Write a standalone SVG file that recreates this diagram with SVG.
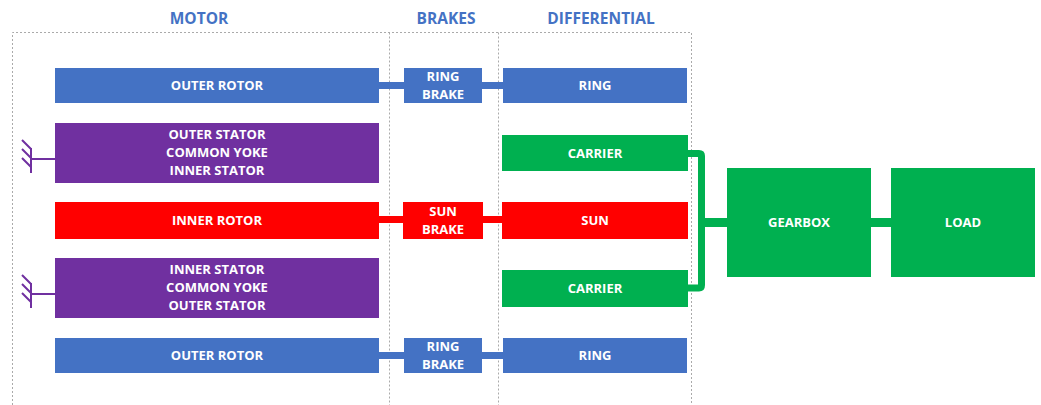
<svg xmlns="http://www.w3.org/2000/svg" width="1041" height="405" viewBox="0 0 1041 405">
<style>
.hdr{font-family:"Open Sans","Liberation Sans",sans-serif;font-weight:700;font-size:15.5px;fill:#4472C4;text-anchor:middle}
.lbl{font-family:"Open Sans","Liberation Sans",sans-serif;font-weight:700;font-size:13px;fill:#fff;text-anchor:middle}
.frame{fill:none;stroke:#aaaaaa;stroke-width:1;stroke-dasharray:2,2}
.blue{fill:#4472C4}
.purple{fill:#7030A0}
.red{fill:#FF0000}
.green{fill:#00B050}
.gnd{fill:none;stroke:#7030A0;stroke-width:2}
</style>
<rect width="1041" height="405" fill="#fff"/>
<g id="frames">
<path class="frame" d="M12.5,405 V32.5 H691.5 V405 M389.5,32.5 V405 M498.5,32.5 V405"/>
<text class="hdr" x="199" y="24">MOTOR</text>
<text class="hdr" x="446" y="24">BRAKES</text>
<text class="hdr" x="601" y="24">DIFFERENTIAL</text>
</g>
<g id="connectors">
<rect class="blue" x="378" y="82" width="28" height="7"/>
<rect class="blue" x="481" y="82" width="23" height="7"/>
<rect class="red" x="378" y="216" width="28" height="7"/>
<rect class="red" x="481" y="216" width="23" height="7"/>
<rect class="blue" x="378" y="352" width="28" height="7"/>
<rect class="blue" x="481" y="352" width="23" height="7"/>
<path d="M687,153.5 H699 Q701.5,153.5 701.5,156 V285 Q701.5,288 699,288 H687" fill="none" stroke="#00B050" stroke-width="7"/>
<rect class="green" x="701" y="218" width="28" height="9"/>
<rect class="green" x="869" y="218" width="24" height="9"/>
<path class="gnd" d="M31,159 H55 M31,148 V173 M22,140 L31,149 M22,149 L31,158 M22,158 L31,167"/>
<path class="gnd" d="M31,294 H55 M31,283 V308 M22,275 L31,284 M22,284 L31,293 M22,293 L31,302"/>
</g>
<g id="outer-rotor-top"><rect class="blue" x="55" y="68" width="324" height="35"/><text class="lbl" x="217" y="90">OUTER ROTOR</text></g>
<g id="ring-brake-top"><rect class="blue" x="404" y="68" width="78" height="35"/><text class="lbl" x="443" y="81">RING</text><text class="lbl" x="443" y="99">BRAKE</text></g>
<g id="ring-top"><rect class="blue" x="503" y="68" width="184" height="35"/><text class="lbl" x="595" y="90">RING</text></g>
<g id="stator-top"><rect class="purple" x="55" y="123" width="324" height="60"/><text class="lbl" x="217" y="139">OUTER STATOR</text><text class="lbl" x="217" y="157">COMMON YOKE</text><text class="lbl" x="217" y="175">INNER STATOR</text></g>
<g id="carrier-top"><rect class="green" x="502" y="135" width="186" height="36"/><text class="lbl" x="595" y="158">CARRIER</text></g>
<g id="inner-rotor"><rect class="red" x="55" y="202" width="324" height="37"/><text class="lbl" x="217" y="225">INNER ROTOR</text></g>
<g id="sun-brake"><rect class="red" x="403" y="202" width="80" height="37"/><text class="lbl" x="443" y="216">SUN</text><text class="lbl" x="443" y="234">BRAKE</text></g>
<g id="sun"><rect class="red" x="502" y="202" width="186" height="37"/><text class="lbl" x="595" y="225">SUN</text></g>
<g id="stator-bottom"><rect class="purple" x="55" y="258" width="324" height="60"/><text class="lbl" x="217" y="274">INNER STATOR</text><text class="lbl" x="217" y="292">COMMON YOKE</text><text class="lbl" x="217" y="310">OUTER STATOR</text></g>
<g id="carrier-bottom"><rect class="green" x="502" y="270" width="186" height="37"/><text class="lbl" x="595" y="293">CARRIER</text></g>
<g id="outer-rotor-bottom"><rect class="blue" x="55" y="338" width="324" height="35"/><text class="lbl" x="217" y="360">OUTER ROTOR</text></g>
<g id="ring-brake-bottom"><rect class="blue" x="404" y="338" width="78" height="35"/><text class="lbl" x="443" y="351">RING</text><text class="lbl" x="443" y="369">BRAKE</text></g>
<g id="ring-bottom"><rect class="blue" x="503" y="338" width="184" height="35"/><text class="lbl" x="595" y="360">RING</text></g>
<g id="gearbox"><rect class="green" x="727" y="168" width="144" height="109"/><text class="lbl" x="799" y="227">GEARBOX</text></g>
<g id="load"><rect class="green" x="891" y="168" width="144" height="109"/><text class="lbl" x="963" y="227">LOAD</text></g>
</svg>
